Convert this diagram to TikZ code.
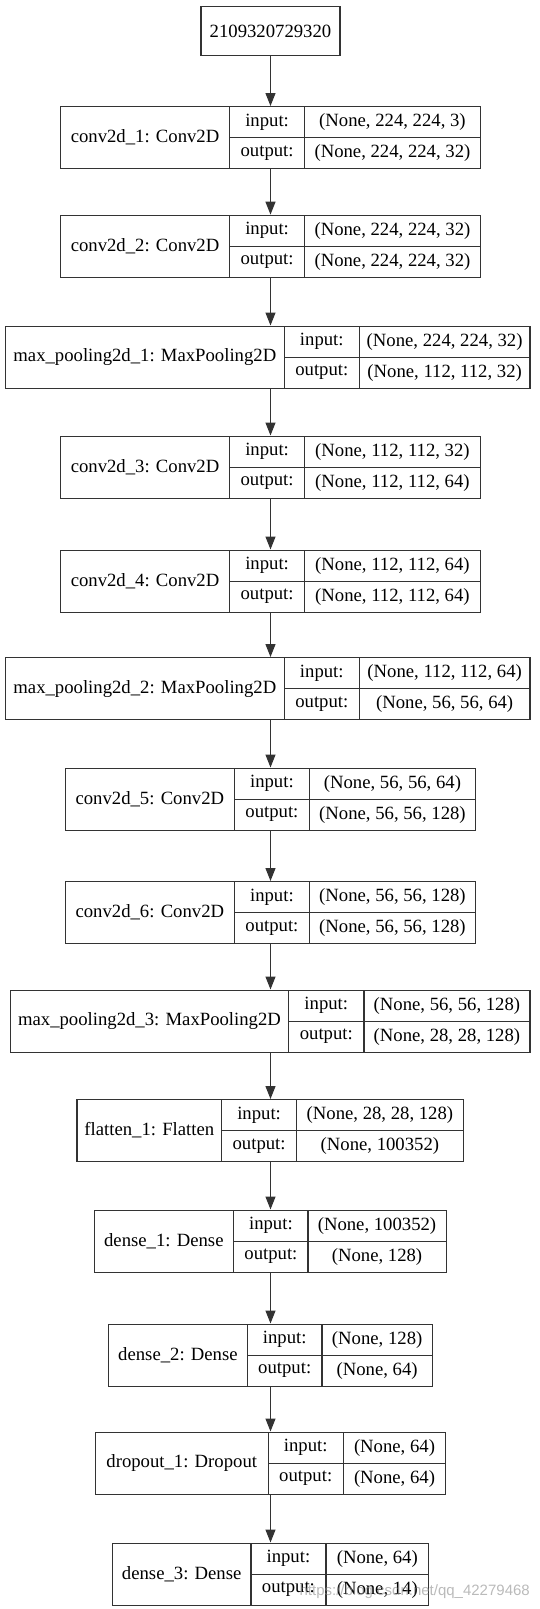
\documentclass[tikz,border=0pt]{standalone}
\usepackage{fontspec}
\setmainfont{Liberation Serif}
\newfontfamily\wmfont{Liberation Sans}
\usetikzlibrary{arrows.meta}

\tikzset{
  cell/.style={draw=black!80, line width=1.2pt, inner sep=0pt, anchor=north west,
    font=\fontsize{18.7}{22}\selectfont},
  lbl/.style={cell, minimum height=62},
  io/.style={cell, minimum width=75, minimum height=31},
  val/.style={cell, minimum height=31},
  arr/.style={draw=black!80, line width=1.2pt, -{Triangle[length=13pt,width=10pt]}}
}

\begin{document}
\begin{tikzpicture}[x=1pt, y=-1pt]
  \useasboundingbox (0,0) rectangle (540,1609);

  %%% input node %%%
  \node[cell, minimum width=139, minimum height=49] (top) at (200.4,6) {2109320729320};

  %%% conv block 1 %%%
  % conv2d_1
  \node[lbl, minimum width=169.1] (c1) at (59.9,106) {conv2d\_1: Conv2D};
  \node[io] (c1i) at (229,106) {input:};
  \node[io] (c1o) at (229,137) {output:};
  \node[val, minimum width=175.7] (c1a) at (304,106) {(None, 224, 224, 3)};
  \node[val, minimum width=175.7] (c1b) at (304,137) {(None, 224, 224, 32)};
  % conv2d_2
  \node[lbl, minimum width=169.1] (c2) at (59.9,214.6) {conv2d\_2: Conv2D};
  \node[io] (c2i) at (229,214.6) {input:};
  \node[io] (c2o) at (229,245.6) {output:};
  \node[val, minimum width=175.7] (c2a) at (304,214.6) {(None, 224, 224, 32)};
  \node[val, minimum width=175.7] (c2b) at (304,245.6) {(None, 224, 224, 32)};
  % max_pooling2d_1
  \node[lbl, minimum width=278.9] (p1) at (4.8,325.5) {max\_pooling2d\_1: MaxPooling2D};
  \node[io] (p1i) at (283.7,325.5) {input:};
  \node[io] (p1o) at (283.7,356.5) {output:};
  \node[val, minimum width=170.5] (p1a) at (358.8,325.5) {(None, 224, 224, 32)};
  \node[val, minimum width=170.5] (p1b) at (358.8,356.5) {(None, 112, 112, 32)};

  %%% conv block 2 %%%
  % conv2d_3
  \node[lbl, minimum width=169.1] (c3) at (59.9,435.5) {conv2d\_3: Conv2D};
  \node[io] (c3i) at (229,435.5) {input:};
  \node[io] (c3o) at (229,466.5) {output:};
  \node[val, minimum width=175.7] (c3a) at (304,435.5) {(None, 112, 112, 32)};
  \node[val, minimum width=175.7] (c3b) at (304,466.5) {(None, 112, 112, 64)};
  % conv2d_4
  \node[lbl, minimum width=169.1] (c4) at (59.9,549.5) {conv2d\_4: Conv2D};
  \node[io] (c4i) at (229,549.5) {input:};
  \node[io] (c4o) at (229,580.5) {output:};
  \node[val, minimum width=175.7] (c4a) at (304,549.5) {(None, 112, 112, 64)};
  \node[val, minimum width=175.7] (c4b) at (304,580.5) {(None, 112, 112, 64)};
  % max_pooling2d_2
  \node[lbl, minimum width=278.9] (p2) at (4.8,657) {max\_pooling2d\_2: MaxPooling2D};
  \node[io] (p2i) at (283.7,657) {input:};
  \node[io] (p2o) at (283.7,688) {output:};
  \node[val, minimum width=170.5] (p2a) at (358.8,657) {(None, 112, 112, 64)};
  \node[val, minimum width=170.5] (p2b) at (358.8,688) {(None, 56, 56, 64)};

  %%% conv block 3 %%%
  % conv2d_5
  \node[lbl, minimum width=169.1] (c5) at (64.7,767.5) {conv2d\_5: Conv2D};
  \node[io] (c5i) at (233.8,767.5) {input:};
  \node[io] (c5o) at (233.8,798.5) {output:};
  \node[val, minimum width=166.7] (c5a) at (308.5,767.5) {(None, 56, 56, 64)};
  \node[val, minimum width=166.7] (c5b) at (308.5,798.5) {(None, 56, 56, 128)};
  % conv2d_6
  \node[lbl, minimum width=169.1] (c6) at (64.7,881) {conv2d\_6: Conv2D};
  \node[io] (c6i) at (233.8,881) {input:};
  \node[io] (c6o) at (233.8,912) {output:};
  \node[val, minimum width=166.7] (c6a) at (308.5,881) {(None, 56, 56, 128)};
  \node[val, minimum width=166.7] (c6b) at (308.5,912) {(None, 56, 56, 128)};
  % max_pooling2d_3
  \node[lbl, minimum width=278.6] (p3) at (9.6,989.5) {max\_pooling2d\_3: MaxPooling2D};
  \node[io] (p3i) at (288.2,989.5) {input:};
  \node[io] (p3o) at (288.2,1020.5) {output:};
  \node[val, minimum width=166] (p3a) at (363.3,989.5) {(None, 56, 56, 128)};
  \node[val, minimum width=166] (p3b) at (363.3,1020.5) {(None, 28, 28, 128)};

  %%% classifier %%%
  % flatten_1
  \node[lbl, minimum width=144.6] (f1) at (76.4,1099) {flatten\_1: Flatten};
  \node[io] (f1i) at (221,1099) {input:};
  \node[io] (f1o) at (221,1130) {output:};
  \node[val, minimum width=166.4] (f1a) at (296.1,1099) {(None, 28, 28, 128)};
  \node[val, minimum width=166.4] (f1b) at (296.1,1130) {(None, 100352)};
  % dense_1
  \node[lbl, minimum width=139.1] (d1) at (93.7,1209.5) {dense\_1: Dense};
  \node[io] (d1i) at (232.8,1209.5) {input:};
  \node[io] (d1o) at (232.8,1240.5) {output:};
  \node[val, minimum width=139.2] (d1a) at (306.8,1209.5) {(None, 100352)};
  \node[val, minimum width=139.2] (d1b) at (306.8,1240.5) {(None, 128)};
  % dense_2
  \node[lbl, minimum width=138.5] (d2) at (108.1,1323.5) {dense\_2: Dense};
  \node[io] (d2i) at (246.6,1323.5) {input:};
  \node[io] (d2o) at (246.6,1354.5) {output:};
  \node[val, minimum width=110.5] (d2a) at (321.3,1323.5) {(None, 128)};
  \node[val, minimum width=110.5] (d2b) at (321.3,1354.5) {(None, 64)};
  % dropout_1
  \node[lbl, minimum width=172.9] (r1) at (94.7,1431.5) {dropout\_1: Dropout};
  \node[io] (r1i) at (267.6,1431.5) {input:};
  \node[io] (r1o) at (267.6,1462.5) {output:};
  \node[val, minimum width=102.6] (r1a) at (342.6,1431.5) {(None, 64)};
  \node[val, minimum width=102.6] (r1b) at (342.6,1462.5) {(None, 64)};
  % dense_3
  \node[lbl, minimum width=138.4] (d3) at (111.9,1542.5) {dense\_3: Dense};
  \node[io] (d3i) at (250.3,1542.5) {input:};
  \node[io] (d3o) at (250.3,1573.5) {output:};
  \node[val, minimum width=102.6] (d3a) at (325.4,1542.5) {(None, 64)};
  \node[val, minimum width=102.6] (d3b) at (325.4,1573.5) {(None, 14)};

  % watermark
  \node[anchor=east, inner sep=0pt, text=black!45, text opacity=0.6,
    font=\wmfont\fontsize{15}{17}\selectfont] (wm) at (530,1592) {https://blog.csdn.net/qq\_42279468};

  %%% arrows %%%
  \draw[arr] (top.south) -- (top.south |- c1.north);
  \draw[arr] (top.south |- c1.south) -- (top.south |- c2.north);
  \draw[arr] (top.south |- c2.south) -- (top.south |- p1.north);
  \draw[arr] (top.south |- p1.south) -- (top.south |- c3.north);
  \draw[arr] (top.south |- c3.south) -- (top.south |- c4.north);
  \draw[arr] (top.south |- c4.south) -- (top.south |- p2.north);
  \draw[arr] (top.south |- p2.south) -- (top.south |- c5.north);
  \draw[arr] (top.south |- c5.south) -- (top.south |- c6.north);
  \draw[arr] (top.south |- c6.south) -- (top.south |- p3.north);
  \draw[arr] (top.south |- p3.south) -- (top.south |- f1.north);
  \draw[arr] (top.south |- f1.south) -- (top.south |- d1.north);
  \draw[arr] (top.south |- d1.south) -- (top.south |- d2.north);
  \draw[arr] (top.south |- d2.south) -- (top.south |- r1.north);
  \draw[arr] (top.south |- r1.south) -- (top.south |- d3.north);
\end{tikzpicture}
\end{document}
